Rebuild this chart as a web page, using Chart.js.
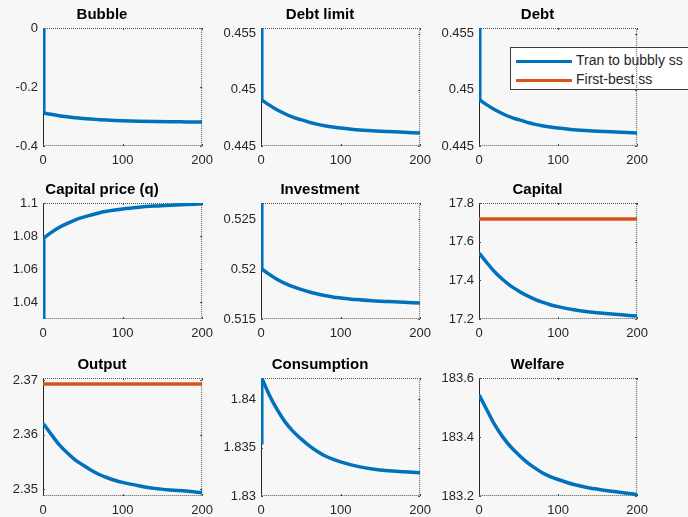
<!DOCTYPE html>
<html>
<head>
<meta charset="utf-8">
<script src="https://cdn.jsdelivr.net/npm/chart.js@4"></script>
<style>
  body { margin: 0; width: 688px; height: 517px; overflow: hidden; background: #f7f7f7; position: relative; }
  canvas { position: absolute; }
  #legend {
    position: absolute; left: 510px; top: 47px; width: 186px; height: 43px;
    background: #ffffff; border: 1px solid #3a3a3a; box-sizing: border-box;
    font-family: "Liberation Sans", Arial, sans-serif; font-size: 14px; color: #262626;
  }
  #legend .row { position: absolute; left: 5px; height: 16px; line-height: 16px; white-space: nowrap; }
  #legend .swatch { display: inline-block; width: 56px; height: 3px; vertical-align: middle; margin-right: 4px; }
</style>
</head>
<body>
<div id="legend">
  <div class="row" style="top:4px"><span class="swatch" style="background:#0072BD"></span>Tran to bubbly ss</div>
  <div class="row" style="top:23px"><span class="swatch" style="background:#D95319"></span>First-best ss</div>
</div>
<script>
// periods on the horizontal axis
const periods = [0, 1, 10, 20, 30, 40, 50, 60, 70, 80, 90, 100, 120, 140, 160, 180, 200];
const fbPeriods = [0, 200];
const xTicks = [0, 100, 200];

// transition to bubbly steady state
const bubble = [0, -0.288, -0.2927, -0.2973, -0.3010, -0.3041, -0.3066, -0.3088, -0.3106, -0.3122, -0.3134, -0.3144, -0.3159, -0.3170, -0.3178, -0.3184, -0.3190];
const debtLimit = [0.4555, 0.4491, 0.44866, 0.44822, 0.44787, 0.44757, 0.44734, 0.44713, 0.44695, 0.44681, 0.44669, 0.44660, 0.44645, 0.44635, 0.44628, 0.44622, 0.44616];
const debt = [0.4555, 0.4491, 0.44866, 0.44822, 0.44787, 0.44757, 0.44734, 0.44713, 0.44695, 0.44681, 0.44669, 0.44660, 0.44645, 0.44635, 0.44628, 0.44622, 0.44616];
const capitalPrice = [1.03, 1.079, 1.0821, 1.0852, 1.0876, 1.0897, 1.0913, 1.0927, 1.0940, 1.0950, 1.0958, 1.0964, 1.0975, 1.0982, 1.0987, 1.0991, 1.0995];
const investment = [0.5266, 0.52, 0.51949, 0.51898, 0.51857, 0.51823, 0.51796, 0.51772, 0.51752, 0.51735, 0.51721, 0.51711, 0.51694, 0.51682, 0.51674, 0.51667, 0.5166];
const capital = [17.54, 17.537, 17.491, 17.443, 17.404, 17.371, 17.345, 17.322, 17.303, 17.287, 17.274, 17.264, 17.248, 17.236, 17.228, 17.222, 17.215];
const output = [2.362, 2.3619, 2.3601, 2.3582, 2.3567, 2.3554, 2.3544, 2.3535, 2.3527, 2.3521, 2.3516, 2.3512, 2.3506, 2.3501, 2.3498, 2.3496, 2.3493];
const consumption = [1.8355, 1.8422, 1.84053, 1.83897, 1.83769, 1.83671, 1.83593, 1.83524, 1.83465, 1.83416, 1.83382, 1.83353, 1.83309, 1.83279, 1.8326, 1.8325, 1.8324];
const welfare = [183.542, 183.538, 183.4915, 183.441, 183.4005, 183.367, 183.340, 183.316, 183.296, 183.279, 183.266, 183.256, 183.239, 183.227, 183.219, 183.212, 183.205];

// first-best steady state
const fbCapital = [17.717, 17.717];
const fbOutput = [2.3693, 2.3693];

// y tick values
const bubbleTicks = [-0.4, -0.2, 0];
const debtTicks = [0.445, 0.45, 0.455];
const qTicks = [1.04, 1.06, 1.08, 1.1];
const invTicks = [0.515, 0.52, 0.525];
const capTicks = [17.2, 17.4, 17.6, 17.8];
const outTicks = [2.35, 2.36, 2.37];
const consTicks = [1.83, 1.835, 1.84];
const welfTicks = [183.2, 183.4, 183.6];

const BLUE = '#0072BD';
const ORANGE = '#D95319';
const FONT = '"Liberation Sans", Arial, sans-serif';

const panels = [
  { title: 'Bubble', y: bubble, min: -0.4, max: 0, ticks: bubbleTicks },
  { title: 'Debt limit', y: debtLimit, min: 0.445, max: 0.4555, ticks: debtTicks },
  { title: 'Debt', y: debt, min: 0.445, max: 0.4555, ticks: debtTicks },
  { title: 'Capital price (q)', y: capitalPrice, min: 1.03, max: 1.1, ticks: qTicks },
  { title: 'Investment', y: investment, min: 0.515, max: 0.5266, ticks: invTicks },
  { title: 'Capital', y: capital, fb: fbCapital, min: 17.2, max: 17.8, ticks: capTicks },
  { title: 'Output', y: output, fb: fbOutput, min: 2.3487, max: 2.3704, ticks: outTicks },
  { title: 'Consumption', y: consumption, min: 1.83, max: 1.8422, ticks: consTicks },
  { title: 'Welfare', y: welfare, min: 183.2, max: 183.6, ticks: welfTicks }
];

// subplot geometry
const colLeft = [43, 261, 479];
const colWidth = [161, 161, 160];
const rowTop = [28, 203, 378];
const rowHeight = [118, 116, 118];
const padLeft = 43, padRight = 16, titleH = 25, axisH = 22;

// MATLAB-like axes box with small inward tick marks
const boxPlugin = {
  id: 'box',
  beforeDatasetsDraw(chart) {
    const { left, top, right, bottom } = chart.chartArea;
    const ctx = chart.ctx;
    ctx.save();
    ctx.lineWidth = 1;
    ctx.strokeStyle = '#555';
    ctx.setLineDash([1, 1]);
    ctx.beginPath();
    ctx.moveTo(left, top + 0.5);
    ctx.lineTo(right - 0.5, top + 0.5);
    ctx.lineTo(right - 0.5, bottom - 0.5);
    ctx.lineTo(left, bottom - 0.5);
    ctx.stroke();
    ctx.setLineDash([]);
    ctx.strokeStyle = '#262626';
    ctx.beginPath();
    ctx.moveTo(left + 0.5, top);
    ctx.lineTo(left + 0.5, bottom);
    ctx.stroke();
    // tick marks
    ctx.strokeStyle = '#444';
    ctx.beginPath();
    chart.scales.x.ticks.forEach(t => {
      const px = Math.round(chart.scales.x.getPixelForValue(t.value)) + 0.5;
      ctx.moveTo(px, bottom); ctx.lineTo(px, bottom - 2);
      ctx.moveTo(px, top); ctx.lineTo(px, top + 2);
    });
    chart.scales.y.ticks.forEach(t => {
      const py = Math.round(chart.scales.y.getPixelForValue(t.value)) + 0.5;
      ctx.moveTo(left, py); ctx.lineTo(left + 2, py);
      ctx.moveTo(right, py); ctx.lineTo(right - 2, py);
    });
    ctx.stroke();
    ctx.restore();
  }
};

const toPoints = (xs, ys) => xs.map((t, k) => ({ x: t, y: ys[k] }));

panels.forEach((p, i) => {
  const col = i % 3, row = Math.floor(i / 3);
  const canvas = document.createElement('canvas');
  canvas.width = padLeft + colWidth[col] + padRight;
  canvas.height = titleH + rowHeight[row] + axisH;
  canvas.style.left = (colLeft[col] - padLeft) + 'px';
  canvas.style.top = (rowTop[row] - titleH) + 'px';
  document.body.appendChild(canvas);

  const pts = toPoints(periods, p.y);
  const datasets = [
    // the jump between period 0 and period 1
    { data: pts.slice(0, 2), borderColor: BLUE, borderWidth: 3.5, pointRadius: 0, tension: 0 },
    // the smooth path after the jump
    { data: pts.slice(1), borderColor: BLUE, borderWidth: 3.5, pointRadius: 0, cubicInterpolationMode: 'monotone' }
  ];
  if (p.fb) {
    datasets.push({ data: toPoints(fbPeriods, p.fb), borderColor: ORANGE, borderWidth: 3.5, pointRadius: 0 });
  }

  new Chart(canvas.getContext('2d'), {
    type: 'line',
    data: { datasets },
    options: {
      responsive: false,
      animation: false,
      devicePixelRatio: 1,
      layout: { padding: { left: 0, right: padRight, top: 0, bottom: 0 } },
      plugins: {
        legend: { display: false },
        tooltip: { enabled: false },
        title: {
          display: true,
          text: p.title,
          color: '#000',
          font: { family: FONT, size: 15, weight: 'bold', lineHeight: 1 },
          padding: { top: 4, bottom: 6 }
        }
      },
      scales: {
        x: {
          type: 'linear',
          min: 0,
          max: 200,
          grid: { display: false, drawTicks: false },
          border: { display: false },
          ticks: { color: '#262626', font: { family: FONT, size: 13 }, padding: 7, maxRotation: 0 },
          afterBuildTicks: s => { s.ticks = xTicks.map(v => ({ value: v })); },
          afterFit: s => { s.height = axisH; }
        },
        y: {
          min: p.min,
          max: p.max,
          grid: { display: false, drawTicks: false },
          border: { display: false },
          ticks: { color: '#262626', font: { family: FONT, size: 13 }, padding: 5, callback: v => String(v) },
          afterBuildTicks: s => { s.ticks = p.ticks.map(v => ({ value: v })); },
          afterFit: s => { s.width = padLeft; }
        }
      }
    },
    plugins: [boxPlugin]
  });
});
</script>
</body>
</html>
